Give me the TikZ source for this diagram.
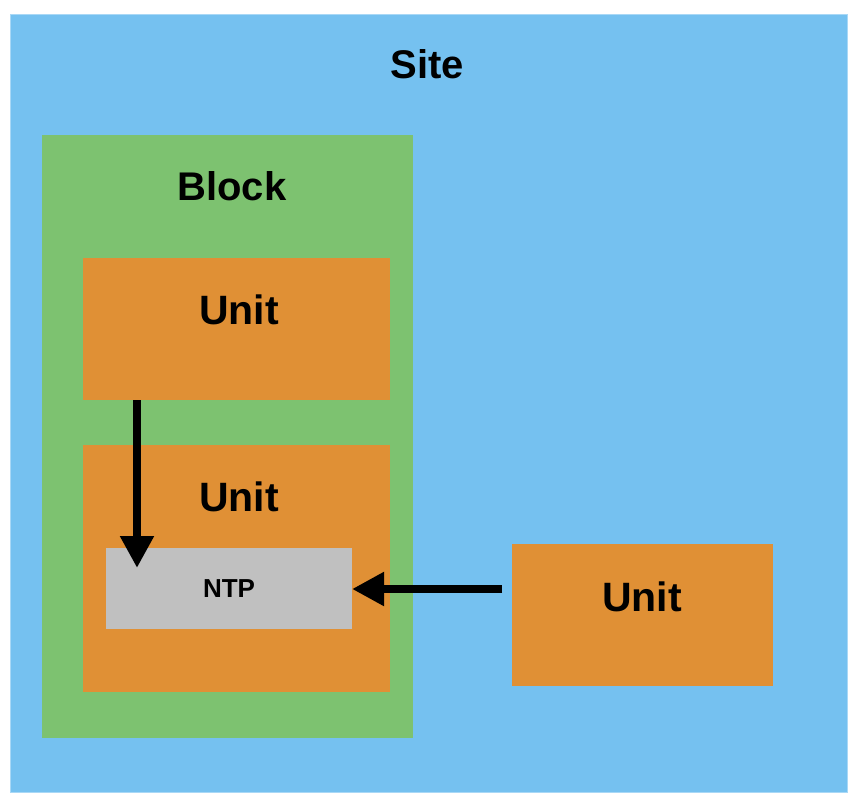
\documentclass[tikz,border=0pt]{standalone}
\usepackage{fontspec}
\setmainfont{Liberation Sans}
\usetikzlibrary{arrows.meta}
\definecolor{siteblue}{HTML}{75C1F0}
\definecolor{siteedge}{HTML}{A9D8F6}
\definecolor{blockgreen}{HTML}{7DC270}
\definecolor{unitorange}{HTML}{E09035}
\definecolor{ntpgray}{HTML}{C0C0C0}
\tikzset{
  box/.style={anchor=north west, inner sep=0pt, outer sep=0pt},
  lbl/.style={inner sep=0pt, font=\bfseries},
  conn/.style={line width=8pt, -{Triangle[length=32pt,width=32pt]}},
}
\begin{document}
\begin{tikzpicture}[x=1pt,y=-1pt]
\useasboundingbox (0,0) rectangle (860,806);
\node[box, fill=siteblue, draw=siteedge, line width=1pt, minimum width=837pt, minimum height=778pt] (site) at (10,14) {};
\node[box, fill=blockgreen, minimum width=371pt, minimum height=603pt] (block) at (42,135) {};
\node[box, fill=unitorange, minimum width=307pt, minimum height=142pt] (u1) at (83,258) {};
\node[box, fill=unitorange, minimum width=307pt, minimum height=247pt] (u2) at (83,445) {};
\node[box, fill=ntpgray, minimum width=246pt, minimum height=81pt] (ntp) at (106,548) {};
\node[box, fill=unitorange, minimum width=261pt, minimum height=142pt] (u3) at (512,544) {};
\node[lbl, font=\fontsize{40}{40}\selectfont\bfseries] (tsite) at (427,64) {Site};
\node[lbl, font=\fontsize{40}{40}\selectfont\bfseries] (tblock) at (232,186) {Block};
\node[lbl, font=\fontsize{41}{41}\selectfont\bfseries] (tu1) at (239,310) {Unit};
\node[lbl, font=\fontsize{41}{41}\selectfont\bfseries] (tu2) at (239,497) {Unit};
\node[lbl, font=\fontsize{41}{41}\selectfont\bfseries] (tu3) at (642,597) {Unit};
\node[lbl, font=\fontsize{26}{26}\selectfont\bfseries] (tntp) at (229,589) {NTP};
\coordinate (a1s) at (137,400);
\coordinate (a1e) at (137,568);
\coordinate (a2s) at (502,589);
\draw[conn] (a1s) -- (a1e);
\draw[conn] (a2s) -- (ntp.east |- a2s);
\end{tikzpicture}
\end{document}
